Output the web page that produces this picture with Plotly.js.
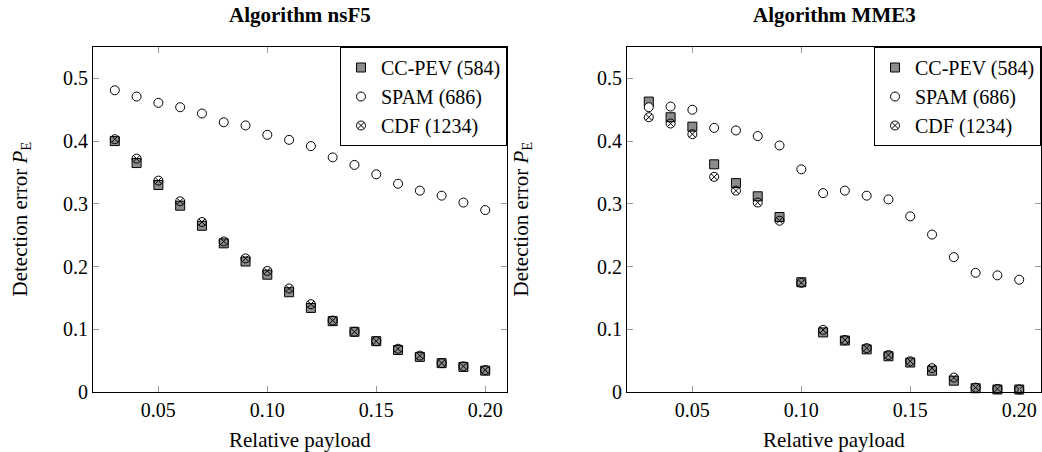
<!DOCTYPE html>
<html>
<head>
<meta charset="utf-8">
<script src="https://cdn.plot.ly/plotly-3.0.1.min.js"></script>
<style>html,body{margin:0;padding:0;background:#fff;}#chart{width:1042px;height:452px;}</style>
</head>
<body>
<div id="chart"></div>
<script>
// Relative payload
const payload = [0.03,0.04,0.05,0.06,0.07,0.08,0.09,0.10,0.11,0.12,0.13,0.14,0.15,0.16,0.17,0.18,0.19,0.20];

// Algorithm nsF5
const nsF5_ccpev = [0.400,0.365,0.330,0.297,0.265,0.237,0.208,0.187,0.159,0.134,0.113,0.096,0.081,0.067,0.056,0.046,0.040,0.034];
const nsF5_spam  = [0.481,0.471,0.461,0.454,0.444,0.430,0.425,0.410,0.402,0.392,0.374,0.362,0.347,0.332,0.321,0.313,0.302,0.290];
const nsF5_cdf   = [0.403,0.372,0.337,0.304,0.271,0.240,0.213,0.193,0.165,0.140,0.114,0.096,0.081,0.069,0.058,0.046,0.041,0.035];

// Algorithm MME3
const mme3_ccpev = [0.463,0.438,0.423,0.363,0.333,0.312,0.279,0.175,0.095,0.082,0.068,0.057,0.047,0.034,0.018,0.006,0.004,0.004];
const mme3_spam  = [0.454,0.455,0.450,0.421,0.417,0.408,0.393,0.355,0.317,0.321,0.313,0.307,0.280,0.251,0.215,0.190,0.186,0.179];
const mme3_cdf   = [0.438,0.428,0.411,0.343,0.321,0.302,0.273,0.174,0.099,0.083,0.070,0.059,0.049,0.038,0.023,0.007,0.005,0.004];

const seriesNames = ['CC-PEV (584)','SPAM (686)','CDF (1234)'];
const xTickVals = [0.05,0.10,0.15,0.20];
const xTickText = ['0.05','0.10','0.15','0.20'];
const yTickVals = [0,0.1,0.2,0.3,0.4,0.5];
const yTickText = ['0','0.1','0.2','0.3','0.4','0.5'];
const titles = ['Algorithm nsF5','Algorithm MME3'];
const xTitle = 'Relative payload';
const yTitle = 'Detection error <i>P</i><sub>E</sub>';

const FONT = "'Liberation Serif', 'DejaVu Serif', serif";

const styles = [
  {symbol:'square', size:9, color:'#8c8c8c', line:{color:'#000',width:1}},
  {symbol:'circle', size:9, color:'#ffffff', line:{color:'#000',width:1}},
  {symbol:'circle-x', size:9, color:'rgba(0,0,0,0)', line:{color:'#000',width:1}}
];

function makeTraces(ys, xa, ya, leg) {
  return ys.map((y, i) => ({
    x: payload, y: y, type: 'scatter', mode: 'markers',
    name: seriesNames[i], xaxis: xa, yaxis: ya, legend: leg,
    marker: styles[i], cliponaxis: false
  }));
}

const data = [
  ...makeTraces([nsF5_ccpev, nsF5_spam, nsF5_cdf], 'x', 'y', 'legend'),
  ...makeTraces([mme3_ccpev, mme3_spam, mme3_cdf], 'x2', 'y2', 'legend2')
];

const W = 1042, ml = 93, mr = 1;
const pw = W - ml - mr;
const d1 = [0, (507 - ml) / pw];
const d2 = [(627 - ml) / pw, 1];

function xaxis(dom, anchor) {
  return {domain: dom, anchor: anchor, range: [0.02, 0.21], tickvals: xTickVals, ticktext: xTickText,
    ticks: 'inside', ticklen: 6, tickcolor: '#999', mirror: 'allticks', showline: true, linecolor: '#000', linewidth: 1,
    showgrid: false, zeroline: false, tickfont: {family: FONT, size: 20, color: '#000'}};
}
function yaxis(anchor) {
  return {domain: [0, 1], anchor: anchor, range: [0, 0.55], tickvals: yTickVals, ticktext: yTickText,
    ticks: 'inside', ticklen: 6, tickcolor: '#999', mirror: 'allticks', showline: true, linecolor: '#000', linewidth: 1,
    showgrid: false, zeroline: false, tickfont: {family: FONT, size: 20, color: '#000'}};
}

const legendBase = {
  yanchor: 'top', y: 1, xanchor: 'right', bgcolor: '#fff', bordercolor: '#000', borderwidth: 1,
  font: {family: FONT, size: 20, color: '#000'}, itemwidth: 30, tracegroupgap: 0
};

const annFont = {family: FONT, size: 21, color: '#000'};
const annotations = [
  {text: '<b>' + titles[0] + '</b>', xref: 'paper', yref: 'paper', x: (d1[0]+d1[1])/2, y: 1, yshift: 32, xanchor: 'center', yanchor: 'middle', showarrow: false, font: annFont},
  {text: '<b>' + titles[1] + '</b>', xref: 'paper', yref: 'paper', x: (d2[0]+d2[1])/2, y: 1, yshift: 32, xanchor: 'center', yanchor: 'middle', showarrow: false, font: annFont},
  {text: xTitle, xref: 'paper', yref: 'paper', x: (d1[0]+d1[1])/2, y: 0, yshift: -48, xanchor: 'center', yanchor: 'middle', showarrow: false, font: annFont},
  {text: xTitle, xref: 'paper', yref: 'paper', x: (d2[0]+d2[1])/2, y: 0, yshift: -48, xanchor: 'center', yanchor: 'middle', showarrow: false, font: annFont},
  {text: yTitle, xref: 'paper', yref: 'paper', x: d1[0], xshift: -73, y: 0.5, xanchor: 'center', yanchor: 'middle', textangle: -90, showarrow: false, font: annFont},
  {text: yTitle, xref: 'paper', yref: 'paper', x: d2[0], xshift: -106, y: 0.5, xanchor: 'center', yanchor: 'middle', textangle: -90, showarrow: false, font: annFont}
];

const layout = {
  width: 1042, height: 452,
  margin: {l: ml, r: mr, t: 47, b: 60, pad: 0},
  paper_bgcolor: '#fff', plot_bgcolor: '#fff',
  font: {family: FONT, size: 20, color: '#000'},
  xaxis: xaxis(d1, 'y'), yaxis: yaxis('x'),
  xaxis2: xaxis(d2, 'y2'), yaxis2: yaxis('x2'),
  legend: Object.assign({}, legendBase, {x: d1[1]}),
  legend2: Object.assign({}, legendBase, {x: d2[1]}),
  annotations: annotations,
  showlegend: true
};

Plotly.newPlot('chart', data, layout, {displayModeBar: false, staticPlot: true});
</script>
</body>
</html>
